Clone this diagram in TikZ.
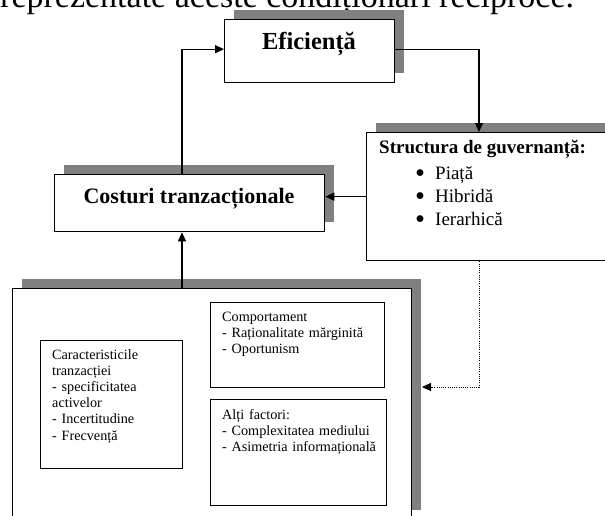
\documentclass[tikz,border=0pt]{standalone}
\usepackage{fontspec}
\setmainfont{Liberation Serif}
\usetikzlibrary{arrows.meta,shadows}
\definecolor{shadowgray}{RGB}{128,128,128}
\newcommand{\bigdot}{\makebox[20pt][l]{\smash{\raisebox{-3.5pt}{\scalebox{1.5}{•}}}}}

\begin{document}
\begin{tikzpicture}[x=1pt,y=-1pt,
	box/.style={draw, line width=1.3pt, fill=white, anchor=north west, inner sep=0pt,
		general shadow={fill=shadowgray, shadow xshift=9.5pt, shadow yshift=9.5pt}},
	subbox/.style={draw, line width=1.1pt, anchor=north west, inner sep=0pt},
	txt/.style={inner sep=0pt, anchor=base west, align=left},
	conn/.style={line width=1.2pt, -{Triangle[length=9pt,width=8pt]}},
	dotconn/.style={line width=0.9pt, dash pattern=on 1pt off 1.2pt, -{Triangle[length=9pt,width=8pt]}}]
			\clip (0,0) rectangle (605,515);
			\node[txt, font=\fontsize{34}{40}\selectfont] (intro) at (0,7.5) {reprezentate aceste condiționări reciproce.};

			% boxes with shadow
			\node[box, minimum width=170pt, minimum height=63pt] (eff) at (224,19) {};
			\node[box, minimum width=270pt, minimum height=57pt] (cost) at (54,174) {};
			\node[box, minimum width=260pt, minimum height=128pt] (struct) at (366,132) {};
			\node[box, minimum width=399pt, minimum height=231pt] (big) at (12,288) {};
			\node[subbox, minimum width=142pt, minimum height=128pt] (car) at (40,340) {};
			\node[subbox, minimum width=174pt, minimum height=85pt] (comp) at (210,302) {};
			\node[subbox, minimum width=176pt, minimum height=106pt] (alti) at (210,399) {};

			% texts
			\node[inner sep=0pt, anchor=base, font=\fontsize{24.5}{28}\selectfont\bfseries] (effText) at (309,49) {Eficiență};
			\node[inner sep=0pt, anchor=base, font=\fontsize{22}{26}\selectfont\bfseries] (costText) at (189,203) {Costuri tranzacționale};
			\node[txt, font=\fontsize{19}{23}\selectfont\bfseries] (structText) at (379,153) {Structura de guvernanță:};
			\node[txt, text width=160pt, font=\fontsize{19}{23}\selectfont] (structList) at (415,179)
				{\bigdot Piață\\ \bigdot Hibridă\\ \bigdot Ierarhică};
			\node[txt, text width=125pt, font=\fontsize{14.2}{16.2}\selectfont] (carText) at (52,359)
				{Caracteristicile\\ tranzacției\\ - specificitatea\\ activelor\\ - Incertitudine\\ - Frecvență};
			\node[txt, text width=160pt, font=\fontsize{14.2}{16.2}\selectfont] (compText) at (222,321)
				{Comportament\\ - Raționalitate mărginită\\ - Oportunism};
			\node[txt, text width=160pt, font=\fontsize{14.2}{16.2}\selectfont] (altiText) at (222,419)
				{Alți factori:\\ - Complexitatea mediului\\ - Asimetria informațională};

			% connectors
			\draw[conn] ([xshift=128pt]cost.north west) |- ([yshift=2pt]eff.west);
			\draw[conn] ([yshift=2pt]eff.east) -| ([xshift=113pt]struct.north west);
			\draw[conn] (struct.west) -- (struct.west -| cost.east);
			\draw[conn] ([xshift=170pt]big.north west) -- ([xshift=170pt]big.north west |- cost.south);
			\coordinate (tip) at (422,387);
			\draw[dotconn] ([xshift=113pt]struct.south west) |- (tip);
\end{tikzpicture}
\end{document}
